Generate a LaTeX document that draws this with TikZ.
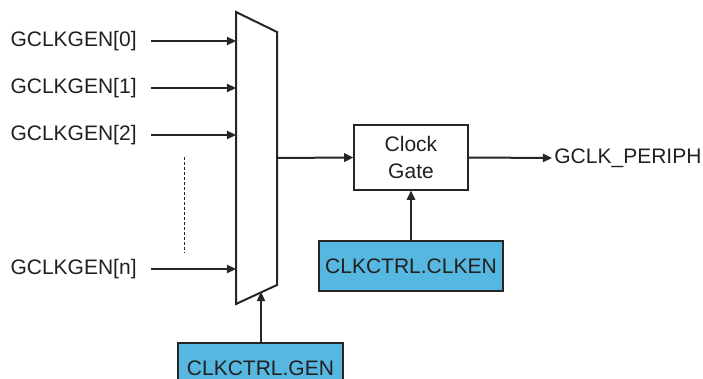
\documentclass[tikz,border=0pt]{standalone}
\usepackage{fontspec}
\setmainfont{Liberation Sans}
\usetikzlibrary{arrows.meta}
\definecolor{regblue}{HTML}{56B8E0}
\definecolor{linegray}{HTML}{262626}
\definecolor{textgray}{HTML}{231F20}

\begin{document}
\begin{tikzpicture}[x=0.5pt,y=-0.5pt,
        font=\fontsize{10.5}{13.5}\selectfont,text=textgray,
        sig/.style={draw=linegray,line width=0.75pt,-{Triangle[length=4.6pt,width=4.2pt]}},
        bus/.style={sig,line width=1pt},
        inlabel/.style={anchor=east,inner xsep=7pt,inner ysep=0pt},
        regbox/.style={draw=linegray,fill=regblue,line width=0.6pt,minimum height=25pt,inner sep=0pt}]
            \useasboundingbox (0,0) rectangle (703,379);
            \clip (0,0) rectangle (703,379);
            % multiplexer
            \draw[linegray,line width=1pt] (236,12) coordinate (m1)
            -- (277,32) coordinate (m2)
            -- (277,285) coordinate (m3)
            -- (236,304) coordinate (m4) -- cycle;
            \coordinate (in0) at (236,41);
            \coordinate (in1) at (236,88);
            \coordinate (in2) at (236,135);
            \coordinate (inn) at (236,269);
            \coordinate (muxout) at (277,158);
            \coordinate (muxsel) at (261,292);
            % inputs
            \node[inlabel] (g0) at (151,41) {GCLKGEN[0]};
            \node[inlabel] (g1) at (151,88) {GCLKGEN[1]};
            \node[inlabel] (g2) at (151,135) {GCLKGEN[2]};
            \node[inlabel] (gn) at (151,269) {GCLKGEN[n]};
            \foreach \i in {0,1,2,n}
                \draw[sig] (g\i.east) -- (in\i);
            \draw[linegray,line width=0.4pt,dash pattern=on 1.5pt off 1pt] (184,157) -- (184,253);
            % gate
            \node[draw=linegray,line width=0.6pt,minimum width=57pt,minimum height=32.5pt,align=center,inner sep=0pt]
                (gate) at (411,157.5) {Clock\\Gate};
            \draw[bus] (muxout) -- (gate.west);
            \node[anchor=west,inner xsep=1pt] (periph) at (552,158) {GCLK\_PERIPH};
            \draw[bus] (gate.east) -- (periph.west);
            % registers
            \node[regbox,minimum width=92pt] (clken) at (411,266) {CLKCTRL.CLKEN};
            \draw[sig] (clken.north) -- (gate.south);
            \node[regbox,minimum width=82.5pt] (gen) at (260.5,368) {CLKCTRL.GEN};
            \draw[sig] (gen.north -| muxsel) -- (muxsel);
        \end{tikzpicture}
\end{document}
